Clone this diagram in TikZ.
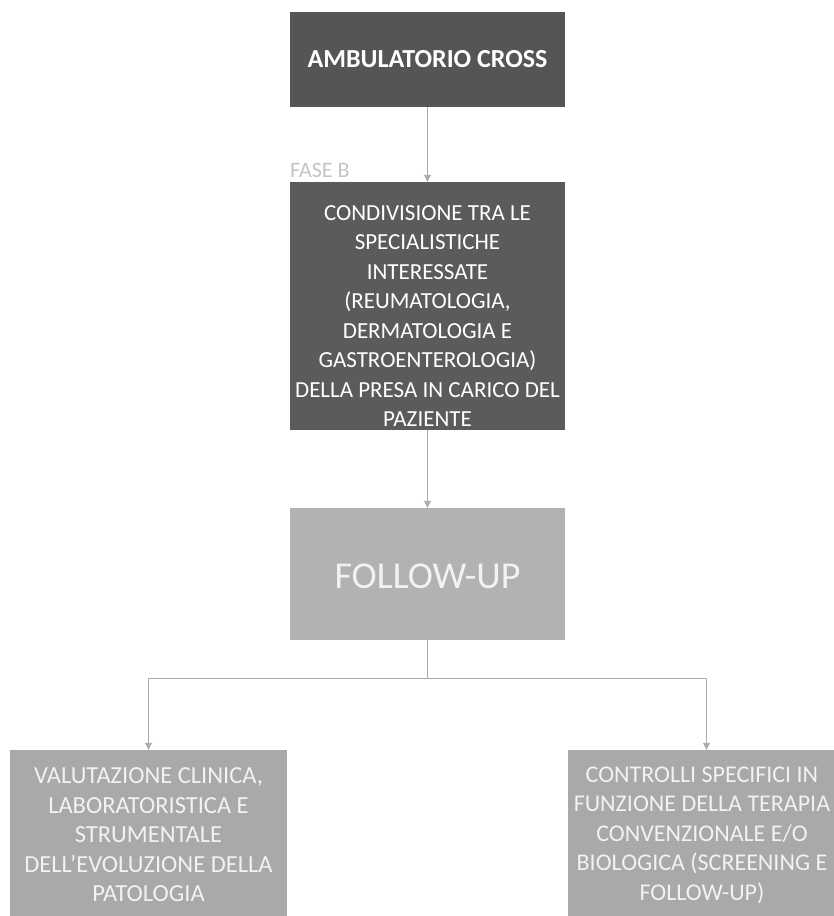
\documentclass[tikz,border=0pt]{standalone}
\usepackage{fontspec}
\setmainfont{Carlito}
\usetikzlibrary{arrows.meta}
\definecolor{darkbox}{HTML}{555555}
\definecolor{midbox}{HTML}{5B5B5B}
\definecolor{lightbox}{HTML}{B2B2B2}
\definecolor{lightbox2}{HTML}{A9A9A9}
\definecolor{linecol}{HTML}{ABABAB}
\definecolor{labelcol}{HTML}{C4C4C4}
\definecolor{paletext}{HTML}{F2F2F2}
\begin{document}
\begin{tikzpicture}[x=1pt,y=-1pt,
  box/.style={rectangle, inner sep=0pt, minimum width=275pt},
  txt/.style={inner sep=0pt, align=center},
  conn/.style={draw=linecol, line width=0.9pt, -{Triangle[length=7pt,width=7pt]}},
  plain/.style={draw=linecol, line width=0.9pt}]
\useasboundingbox (0,0) rectangle (834,916);
\clip (0,0) rectangle (834,916);
\fill[white] (0,0) rectangle (834,916);
% boxes
\node[box, fill=darkbox, minimum height=95pt] (amb) at (427.5,59.5) {};
\node[box, fill=midbox, minimum height=248pt] (cond) at (427.5,306) {};
\node[box, fill=lightbox, minimum height=132pt] (fu) at (427.5,574) {};
\node[box, fill=lightbox2, minimum width=277pt, minimum height=172pt] (val) at (148.5,836) {};
\node[box, fill=lightbox2, minimum width=277pt, minimum height=172pt] (ctr) at (706.5,836) {};
% texts
\node[txt, text=white, font=\bfseries\fontsize{26}{30}\selectfont] (ambt) at (amb.center) {AMBULATORIO CROSS};
\node[txt, text=white, font=\fontsize{23}{29.5}\selectfont] (condt) at (427.5,316) {CONDIVISIONE TRA LE\\SPECIALISTICHE\\INTERESSATE\\(REUMATOLOGIA,\\DERMATOLOGIA E\\GASTROENTEROLOGIA)\\DELLA PRESA IN CARICO DEL\\PAZIENTE};
\node[anchor=base west, text=labelcol, font=\fontsize{22}{26}\selectfont, inner sep=0pt] (fase) at (290,177) {FASE B};
\node[txt, text=paletext, font=\fontsize{38}{44}\selectfont] (fut) at (427.5,576) {FOLLOW-UP};
\node[txt, text=paletext, font=\fontsize{24.5}{29.5}\selectfont] (valt) at (148.5,835) {VALUTAZIONE CLINICA,\\LABORATORISTICA E\\STRUMENTALE\\DELL'EVOLUZIONE DELLA\\PATOLOGIA};
\node[txt, text=paletext, font=\fontsize{24}{29.5}\selectfont] (ctrt) at (702,835) {CONTROLLI SPECIFICI IN\\FUNZIONE DELLA TERAPIA\\CONVENZIONALE E/O\\BIOLOGICA (SCREENING E\\FOLLOW-UP)};
% connectors
\draw[conn] (amb.south) -- (cond.north);
\draw[conn] (cond.south) -- (fu.north);
\coordinate (split) at ([yshift=-38pt]fu.south);
\draw[plain] (fu.south) -- (split);
\draw[conn] (split) -| (val.north);
\draw[conn] (split) -| (ctr.north);
\end{tikzpicture}
\end{document}
